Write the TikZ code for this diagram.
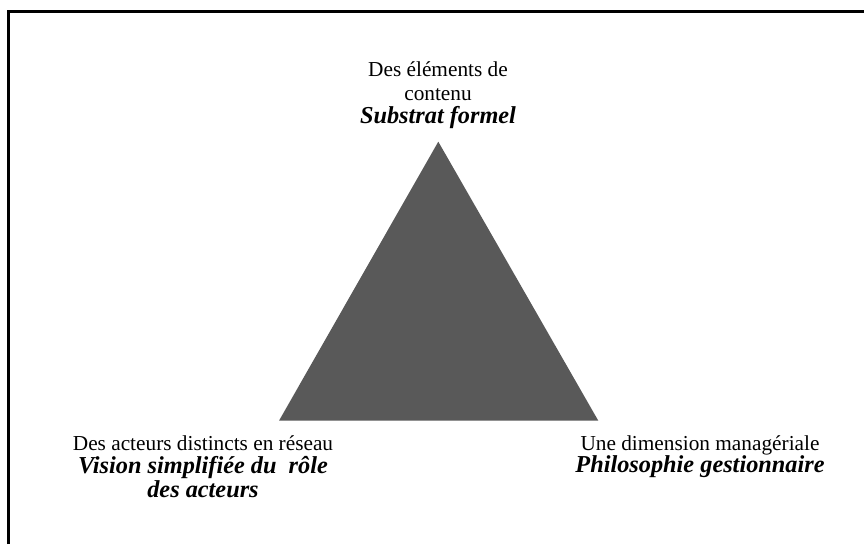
\documentclass[tikz,border=0pt]{standalone}
\usepackage{fontspec}
\setmainfont{Liberation Serif}
\definecolor{trigray}{HTML}{595959}
\begin{document}
\begin{tikzpicture}[x=1pt,y=-1pt,
  reg/.style={font=\fontsize{21.3}{24}\selectfont, anchor=base, inner sep=0pt},
  emp/.style={font=\fontsize{24.3}{27}\selectfont\bfseries\itshape, anchor=base, inner sep=0pt},
  frame/.style={line width=3pt, draw=black}]
\useasboundingbox (0,0) rectangle (864,544);
\fill[white] (0,0) rectangle (864,544);
\draw[frame] (8.5,544) -- (8.5,11.5) -- (864,11.5);
% triangle
\coordinate (apex) at (438.3,141.7);
\coordinate (bl) at (279,420.7);
\coordinate (br) at (598.3,420.7);
\fill[trigray] (apex) -- (bl) -- (br) -- cycle;
% top labels
\node[reg] (top1) at (438,76) {Des éléments de};
\node[reg] (top2) at (438,100) {contenu};
\node[emp] (top3) at (438,123) {Substrat formel};
% left labels
\node[reg] (left1) at (203,450) {Des acteurs distincts en réseau};
\node[emp] (left2) at (203,473.5) {Vision simplifiée du~ rôle};
\node[emp] (left3) at (203,497) {des acteurs};
% right labels
\node[reg] (right1) at (700,450) {Une dimension managériale};
\node[emp] (right2) at (700,472.5) {Philosophie gestionnaire};
\end{tikzpicture}
\end{document}
